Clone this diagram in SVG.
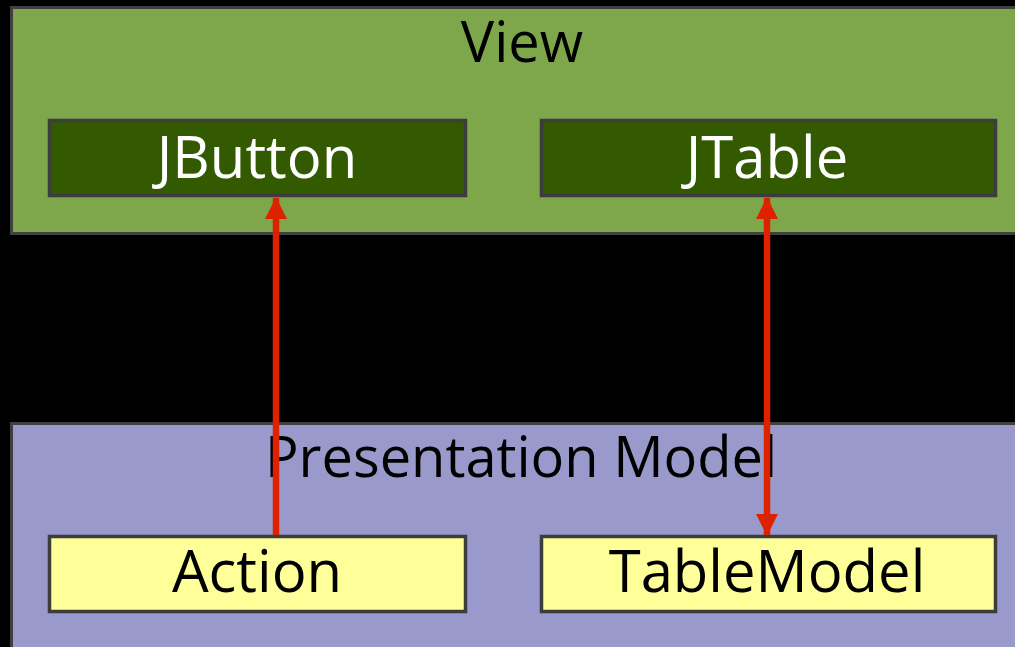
<svg xmlns="http://www.w3.org/2000/svg" width="1015" height="647" viewBox="0 0 1015 647">
<style>
.frame{stroke:#404040;stroke-width:3}
.box{stroke:#3c3c3c;stroke-width:3.5}
text{font-family:"Open Sans","Liberation Sans",sans-serif;font-size:56px;text-anchor:middle}
.lbl{font-size:58px}
.conn{stroke:#dd2200;stroke-width:6.5;fill:none}
</style>
<defs>
<marker id="ah" viewBox="0 0 22 22" refX="21" refY="11" markerWidth="22" markerHeight="22" markerUnits="userSpaceOnUse" orient="auto-start-reverse">
<path d="M0,0 L22,11 L0,22 Z" fill="#dd2200"/>
</marker>
</defs>
<rect width="1015" height="647" fill="#000"/>
<g id="view">
<rect class="frame" x="11.5" y="7.5" width="1010" height="226" fill="#7ea64b"/>
<text x="522" y="62" fill="#000">View</text>
</g>
<g id="pm">
<rect class="frame" x="11.5" y="423.5" width="1010" height="230" fill="#9999cb"/>
<text x="521" y="477" fill="#000">Presentation Model</text>
</g>
<g id="jbutton">
<rect class="box" x="49.5" y="120.5" width="416" height="75" fill="#335a00"/>
<text class="lbl" x="257" y="178" fill="#fff">JButton</text>
</g>
<g id="jtable">
<rect class="box" x="541.5" y="120.5" width="454" height="75" fill="#335a00"/>
<text class="lbl" x="767" y="178" fill="#fff">JTable</text>
</g>
<g id="action">
<rect class="box" x="49.5" y="536.5" width="416" height="75" fill="#ffff99"/>
<text class="lbl" x="257" y="592" fill="#000">Action</text>
</g>
<g id="tablemodel">
<rect class="box" x="541.5" y="536.5" width="454" height="75" fill="#ffff99"/>
<text class="lbl" x="767" y="592" fill="#000">TableModel</text>
</g>
<g id="connectors">
<line class="conn" x1="276" y1="535" x2="276" y2="198" marker-end="url(#ah)"/>
<line class="conn" x1="767" y1="198" x2="767" y2="535" marker-start="url(#ah)" marker-end="url(#ah)"/>
</g>
</svg>
